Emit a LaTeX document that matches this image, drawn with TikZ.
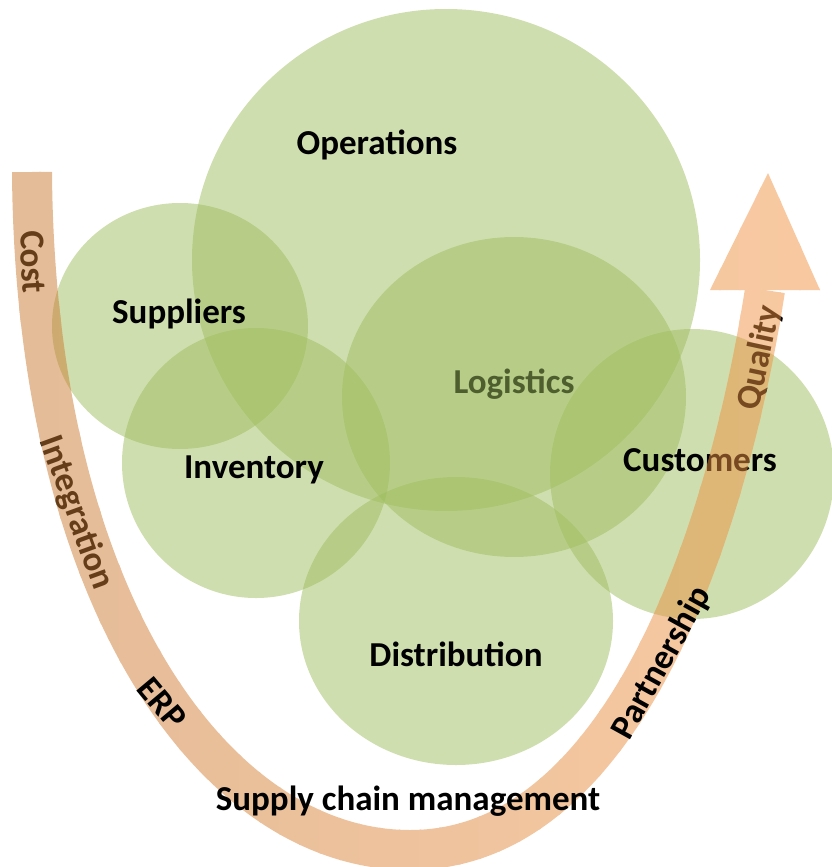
\documentclass[tikz,border=0pt]{standalone}
\usepackage{fontspec}
\setmainfont{Carlito}

\definecolor{leaf}{RGB}{159,189,95}
\definecolor{bandL}{RGB}{201,121,49}
\definecolor{bandR}{RGB}{243,149,69}

\tikzset{
	blob/.style={fill=leaf, fill opacity=0.5},
	tag/.style={font=\bfseries\fontsize{35}{42}\selectfont},
}

\def\scmband{(32,172) .. controls (35,600) and (215,850) .. (410,850) .. controls (620,850) and (726,540) .. (765,290)}

\begin{document}
\begin{tikzpicture}[x=1pt, y=-1pt]
			%%%%% START %%%%%
			\useasboundingbox (0,0) rectangle (831,867);
			
			\fill[blob] (446,260) ellipse [x radius=254, y radius=251];
			\fill[blob] (180,326) ellipse [x radius=128, y radius=123];
			\fill[blob] (256,463) ellipse [x radius=134, y radius=135];
			\fill[blob] (456,621) ellipse [x radius=157, y radius=144];
			\fill[blob] (692,474) ellipse [x radius=142, y radius=145];
			
			\node[tag] (log) at (514,384) {Logistics};
			\fill[blob] (514,397) ellipse [x radius=172, y radius=160];
			
			\node[tag] (ops) at (377,145) {Operations};
			\node[tag] (sup) at (179,314) {Suppliers};
			\node[tag] (inv) at (254,470) {Inventory};
			\node[tag] (cus) at (700,460) {Customers};
			\node[tag] (dis) at (456,654) {Distribution};
			
			\node[tag, rotate=-87] (cost) at (33,262) {Cost};
			\node[tag, rotate=-70] (integ) at (76,513) {Integration};
			\node[tag, rotate=78] (qual) at (760,358) {Quality};
			
			% the U arrow, shaded left to right in strips
			\begin{scope}[transparency group, opacity=0.5]
				\foreach \i in {0,...,41}{
					\pgfmathtruncatemacro{\p}{\i*100/41}
					\begin{scope}
						\clip (\i*20-1,0) rectangle (\i*20+21,900);
						\fill[bandR!\p!bandL] (710,290) -- (768,173) -- (820,290) -- cycle;
						\draw[line width=40, bandR!\p!bandL] \scmband;
					\end{scope}
				}
			\end{scope}
			
			\node[tag, rotate=-50] (erp) at (162,703) {ERP};
			\node[tag, rotate=61] (part) at (662,663) {Partnership};
			\node[tag] (scm) at (408,801) {Supply chain management};
			
			%%%%% END %%%%%
\end{tikzpicture}
\end{document}
